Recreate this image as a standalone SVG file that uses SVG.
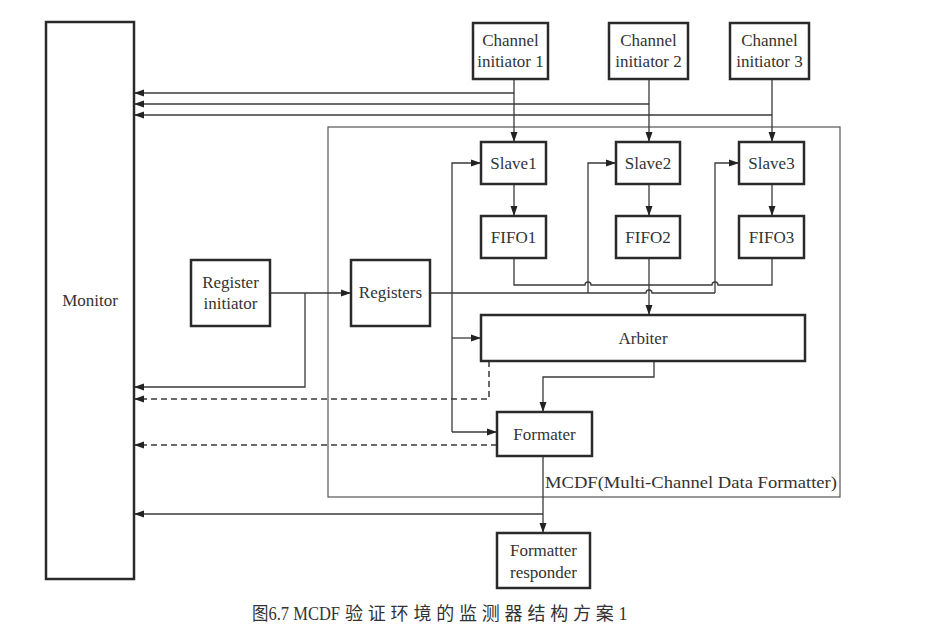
<svg xmlns="http://www.w3.org/2000/svg" width="926" height="633" viewBox="0 0 926 633">
<style>
.box{fill:#fff;stroke:#2a2a2a;stroke-width:2.5}
.ln{fill:none;stroke:#3a3a3a;stroke-width:1.3}
.ds{fill:none;stroke:#3a3a3a;stroke-width:1.5;stroke-dasharray:6,4}
.outer{fill:none;stroke:#555;stroke-width:1.2}
.t{font-family:'Liberation Serif','DejaVu Serif',serif;font-size:17px;fill:#333;text-anchor:middle}
.cap{font-family:'Liberation Serif','Noto Sans CJK SC',serif;fill:#333;font-size:18px}
</style>
<defs>
<marker id="ah" viewBox="0 0 10 10" refX="10" refY="5" markerWidth="10" markerHeight="10" markerUnits="userSpaceOnUse" orient="auto">
<path d="M0,1.5 L10,5 L0,8.5 z" fill="#222"/>
</marker>
</defs>
<rect width="926" height="633" fill="#fff"/>
<g id="mcdf">
<rect class="outer" x="328" y="127" width="512" height="370"/>
<text class="t" x="691" y="488" textLength="292" lengthAdjust="spacingAndGlyphs">MCDF(Multi-Channel Data Formatter)</text>
</g>
<g id="connectors">
<path class="ln" d="M514,79 V142" marker-end="url(#ah)"/>
<path class="ln" d="M649,79 V142" marker-end="url(#ah)"/>
<path class="ln" d="M772,79 V142" marker-end="url(#ah)"/>
<path class="ln" d="M514,93 H134" marker-end="url(#ah)"/>
<path class="ln" d="M649,104 H134" marker-end="url(#ah)"/>
<path class="ln" d="M772,115 H134" marker-end="url(#ah)"/>
<path class="ln" d="M514,184 V216" marker-end="url(#ah)"/>
<path class="ln" d="M649,184 V216" marker-end="url(#ah)"/>
<path class="ln" d="M772,184 V216" marker-end="url(#ah)"/>
<path class="ln" d="M514,258 V285 H585 a3,3 0 0 1 6,0 H712 a3,3 0 0 1 6,0 H772 V258"/>
<path class="ln" d="M649,258 V315" marker-end="url(#ah)"/>
<path class="ln" d="M270,293 H351" marker-end="url(#ah)"/>
<path class="ln" d="M305,293 V387 H134" marker-end="url(#ah)"/>
<path class="ln" d="M430,293 H646 a3,3 0 0 1 6,0 H715"/>
<path class="ln" d="M588,293 V163 H616" marker-end="url(#ah)"/>
<path class="ln" d="M715,293 V163 H739" marker-end="url(#ah)"/>
<path class="ln" d="M452,432 V163 H481" marker-end="url(#ah)"/>
<path class="ln" d="M452,338 H481" marker-end="url(#ah)"/>
<path class="ln" d="M452,432 H497" marker-end="url(#ah)"/>
<path class="ln" d="M654,361 V377 H543 V412" marker-end="url(#ah)"/>
<path class="ds" d="M489,361 V399 H134" marker-end="url(#ah)"/>
<path class="ds" d="M497,445 H134" marker-end="url(#ah)"/>
<path class="ln" d="M543,456 V533" marker-end="url(#ah)"/>
<path class="ln" d="M543,514 H134" marker-end="url(#ah)"/>
</g>
<g id="monitor"><rect class="box" x="46" y="22" width="88" height="557"/><text class="t" x="90" y="306">Monitor</text></g>
<g id="ci1"><rect class="box" x="473" y="23" width="75" height="56"/><text class="t" x="510.5" y="46">Channel</text><text class="t" x="510.5" y="67">initiator 1</text></g>
<g id="ci2"><rect class="box" x="609" y="23" width="79" height="56"/><text class="t" x="648.5" y="46">Channel</text><text class="t" x="648.5" y="67">initiator 2</text></g>
<g id="ci3"><rect class="box" x="730" y="23" width="79" height="56"/><text class="t" x="769.5" y="46">Channel</text><text class="t" x="769.5" y="67">initiator 3</text></g>
<g id="slave1"><rect class="box" x="481" y="142" width="65" height="42"/><text class="t" x="513.5" y="169">Slave1</text></g>
<g id="slave2"><rect class="box" x="616" y="142" width="64" height="42"/><text class="t" x="648" y="169">Slave2</text></g>
<g id="slave3"><rect class="box" x="739" y="142" width="65" height="42"/><text class="t" x="771.5" y="169">Slave3</text></g>
<g id="fifo1"><rect class="box" x="481" y="216" width="65" height="42"/><text class="t" x="513.5" y="243">FIFO1</text></g>
<g id="fifo2"><rect class="box" x="616" y="216" width="64" height="42"/><text class="t" x="648" y="243">FIFO2</text></g>
<g id="fifo3"><rect class="box" x="739" y="216" width="65" height="42"/><text class="t" x="771.5" y="243">FIFO3</text></g>
<g id="reginit"><rect class="box" x="191" y="260" width="79" height="66"/><text class="t" x="230.5" y="288">Register</text><text class="t" x="230.5" y="309">initiator</text></g>
<g id="registers"><rect class="box" x="351" y="260" width="79" height="66"/><text class="t" x="390.5" y="298">Registers</text></g>
<g id="arbiter"><rect class="box" x="481" y="315" width="324" height="46"/><text class="t" x="643" y="344">Arbiter</text></g>
<g id="formater"><rect class="box" x="497" y="412" width="95" height="44"/><text class="t" x="544.5" y="440">Formater</text></g>
<g id="responder"><rect class="box" x="497" y="533" width="93" height="55"/><text class="t" x="543.5" y="556">Formatter</text><text class="t" x="543.5" y="578">responder</text></g>
<text class="cap" x="252" y="620" textLength="88" lengthAdjust="spacingAndGlyphs">图6.7 MCDF</text>
<text class="cap" x="345" y="620" letter-spacing="4.8">验证环境的监测器结构方案1</text>
</svg>
